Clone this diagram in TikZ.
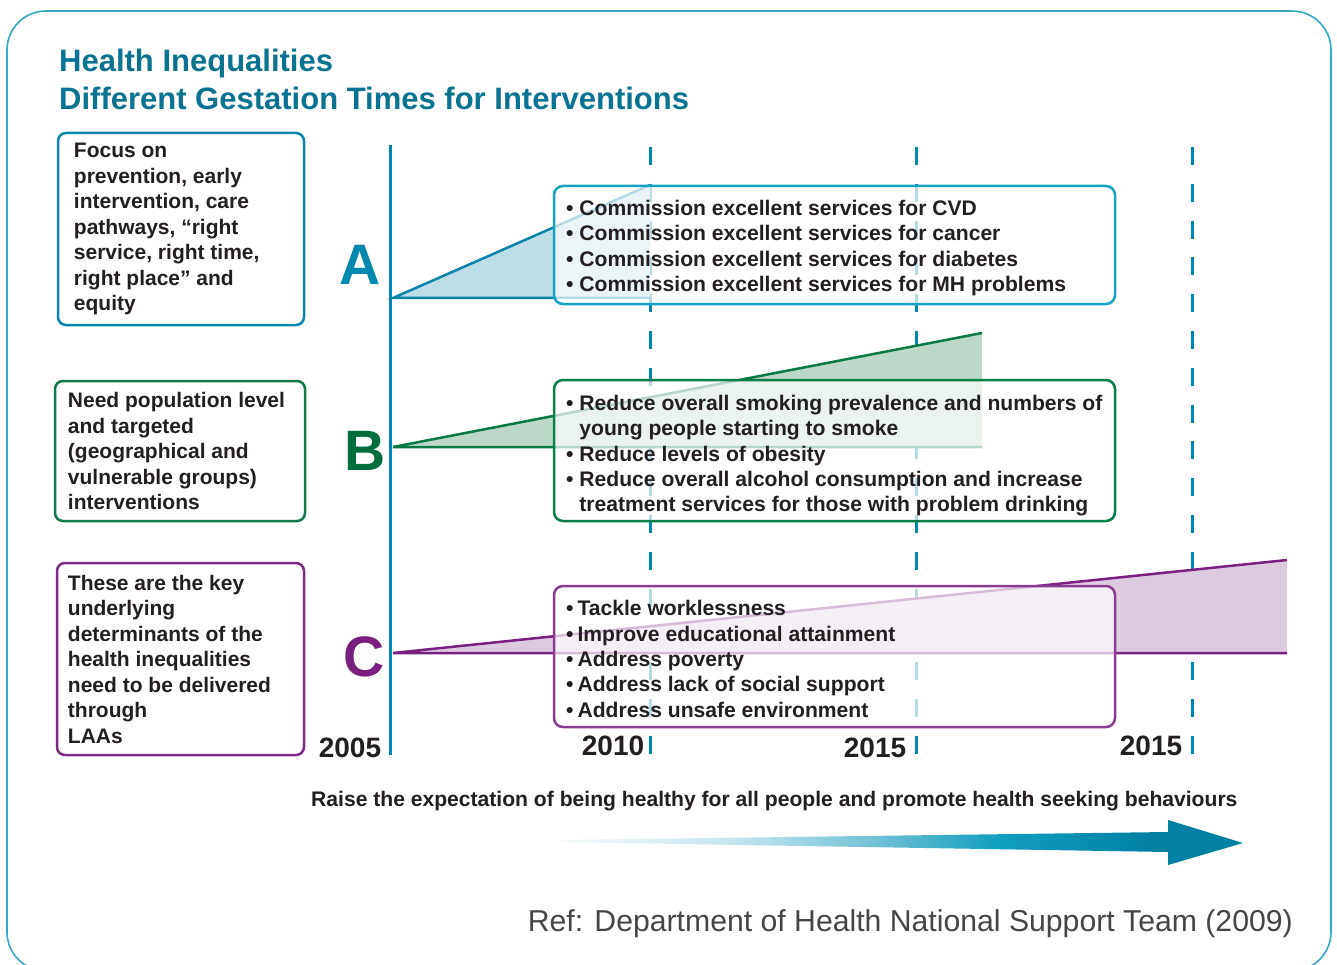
\documentclass[tikz,border=0pt]{standalone}
\usepackage{fontspec}
\setmainfont{Liberation Sans}
\definecolor{framecol}{HTML}{35A8C9}
\definecolor{titlecol}{HTML}{0A7391}
\definecolor{txt}{HTML}{231F20}
\definecolor{reftxt}{HTML}{454545}
\definecolor{colA}{HTML}{0088AE}
\definecolor{lboxA}{HTML}{0A86AE}
\definecolor{rboxA}{HTML}{18A3C4}
\definecolor{triAfill}{HTML}{BDDDE7}
\definecolor{triAedge}{HTML}{0A84A8}
\definecolor{colB}{HTML}{006D3C}
\definecolor{lboxB}{HTML}{157A4A}
\definecolor{rboxB}{HTML}{0B7D48}
\definecolor{triBfill}{HTML}{BCD8C9}
\definecolor{triBedge}{HTML}{0A7A45}
\definecolor{colC}{HTML}{7A1F7E}
\definecolor{lboxC}{HTML}{7D2B84}
\definecolor{rboxC}{HTML}{8A3D90}
\definecolor{triCfill}{HTML}{DCCADF}
\definecolor{triCedge}{HTML}{7A2081}
\definecolor{arr0}{HTML}{F4FAFC}
\definecolor{arr1}{HTML}{C4E4EE}
\definecolor{arr2}{HTML}{72C1D7}
\definecolor{arr3}{HTML}{129FC0}
\definecolor{arr4}{HTML}{0081A4}
\pgfdeclarehorizontalshading{arrowsh}{100bp}{color(0bp)=(arr0); color(25bp)=(arr0); color(38bp)=(arr1); color(48bp)=(arr2); color(57bp)=(arr3); color(68bp)=(arr4); color(100bp)=(arr4)}
\begin{document}
\begin{tikzpicture}[x=1pt,y=-1pt,
  lbox/.style={draw=#1, line width=2.5pt, rounded corners=8pt, inner sep=0pt},
  rbox/.style={draw=#1, line width=2.5pt, rounded corners=9pt, fill=white, fill opacity=0.7, draw opacity=1, inner sep=0pt},
  ltext/.style={align=left, inner sep=0pt, text=txt, font=\fontsize{21}{25.5}\selectfont\bfseries},
  rtext/.style={inner sep=0pt, text=txt, font=\fontsize{21.1}{25.3}\selectfont\bfseries},
  bigletter/.style={inner sep=0pt, font=\fontsize{57}{60}\selectfont\bfseries, anchor=base},
  year/.style={inner sep=0pt, text=txt, font=\fontsize{28}{30}\selectfont\bfseries, anchor=base},
  dashline/.style={draw=colA, line width=3pt, dash pattern=on 18pt off 18.8pt},
  edgeline/.style={line width=2.5pt, line join=miter}
]
\useasboundingbox (0,0) rectangle (1337,965);
\fill[white] (0,0) rectangle (1337,965);
% outer frame
\draw[framecol, line width=1.6pt, rounded corners=39pt] (7,11) rectangle (1331,971);
% title
\node[anchor=base west, inner sep=0pt, text=titlecol, font=\fontsize{31}{36}\selectfont\bfseries] (title1) at (59,72) {Health Inequalities};
\node[anchor=base west, inner sep=0pt, text=titlecol, font=\fontsize{31}{36}\selectfont\bfseries] (title2) at (59,110) {Different Gestation Times for Interventions};
% time axis and dashed year lines
\draw[colA, line width=3pt] (390,145) -- (390,755);
\coordinate (d1t) at (650,147); \coordinate (d1b) at (650,754);
\coordinate (d2t) at (916,147); \coordinate (d2b) at (916,754);
\coordinate (d3t) at (1192,147); \coordinate (d3b) at (1192,754);
\draw[dashline] (d1t) -- (d1b);
\draw[dashline] (d2t) -- (d2b);
\draw[dashline] (d3t) -- (d3b);
% triangles
\fill[triAfill] (393,298) -- (650,185) -- (650,298) -- cycle;
\draw[triAedge, edgeline] (650,185) -- (393,298) -- (650,298);
\fill[triBfill] (393,447) -- (982,333) -- (982,447) -- cycle;
\draw[triBedge, edgeline] (982,333) -- (393,447) -- (982,447);
\fill[triCfill] (393,653) -- (1287,560) -- (1287,653) -- cycle;
\draw[triCedge, edgeline] (1287,560) -- (393,653) -- (1287,653);
% letters
\node[bigletter, text=colA] (letA) at (360.5,285) {A};
\node[bigletter, text=colB] (letB) at (365.5,470) {B};
\node[bigletter, text=colC] (letC) at (364,676) {C};
% left boxes
\node[lbox=lboxA, minimum width=246pt, minimum height=192pt] (la) at (181,229) {};
\node[ltext, anchor=west] (lat) at ([xshift=17pt]la.west) {Focus on\\prevention, early\\intervention, care\\pathways, “right\\service, right time,\\right place” and\\equity};
\node[lbox=lboxB, minimum width=250pt, minimum height=140pt] (lb) at (180,451) {};
\node[ltext, anchor=west] (lbt) at ([xshift=14pt]lb.west) {Need population level\\and targeted\\(geographical and\\vulnerable groups)\\interventions};
\node[lbox=lboxC, minimum width=247pt, minimum height=192pt] (lc) at (180.5,659) {};
\node[ltext, anchor=west] (lct) at ([xshift=12pt]lc.west) {These are the key\\underlying\\determinants of the\\health inequalities\\need to be delivered\\through\\LAAs};
% right boxes
\node[rbox=rboxA, minimum width=561pt, minimum height=118pt] (ra) at (834.5,245) {};
\node[rtext, anchor=west] (rat) at (566,248.5) {\begin{tabular}{@{}l@{ }l@{}}
•&Commission excellent services for CVD\\
•&Commission excellent services for cancer\\
•&Commission excellent services for diabetes\\
•&Commission excellent services for MH problems
\end{tabular}};
\node[rbox=rboxB, minimum width=561pt, minimum height=141pt] (rb) at (834.5,450.5) {};
\node[rtext, anchor=west] (rbt) at (566,456) {\begin{tabular}{@{}l@{ }l@{}}
•&Reduce overall smoking prevalence and numbers of\\
&young people starting to smoke\\
•&Reduce levels of obesity\\
•&Reduce overall alcohol consumption and increase\\
&treatment services for those with problem drinking
\end{tabular}};
\node[rbox=rboxC, minimum width=561pt, minimum height=141pt] (rc) at (834.5,656.5) {};
\node[rtext, anchor=west] (rct) at (566,661.5) {\begin{tabular}{@{}l@{\hspace{4pt}}l@{}}
•&Tackle worklessness\\
•&Improve educational attainment\\
•&Address poverty\\
•&Address lack of social support\\
•&Address unsafe environment
\end{tabular}};
% years
\node[year] (y2005) at (350,757) {2005};
\node[year] (y2010) at (613,755) {2010};
\node[year] (y2015a) at (875,757) {2015};
\node[year] (y2015b) at (1151,755) {2015};
% bottom statement
\node[anchor=base west, inner sep=0pt, text=txt, font=\fontsize{21.1}{24}\selectfont\bfseries] (raise) at (311,806) {Raise the expectation of being healthy for all people and promote health seeking behaviours};
% gradient arrow
\shade[shading=arrowsh] (560,840) -- (1168,832) -- (1168,820) -- (1243,843) -- (1168,865) -- (1168,852) -- (560,842) -- cycle;
% reference
\node[anchor=base east, inner sep=0pt, text=reftxt, font=\fontsize{30.2}{34}\selectfont] (ref) at (1293,931) {Ref: Department of Health National Support Team (2009)};
\end{tikzpicture}
\end{document}
